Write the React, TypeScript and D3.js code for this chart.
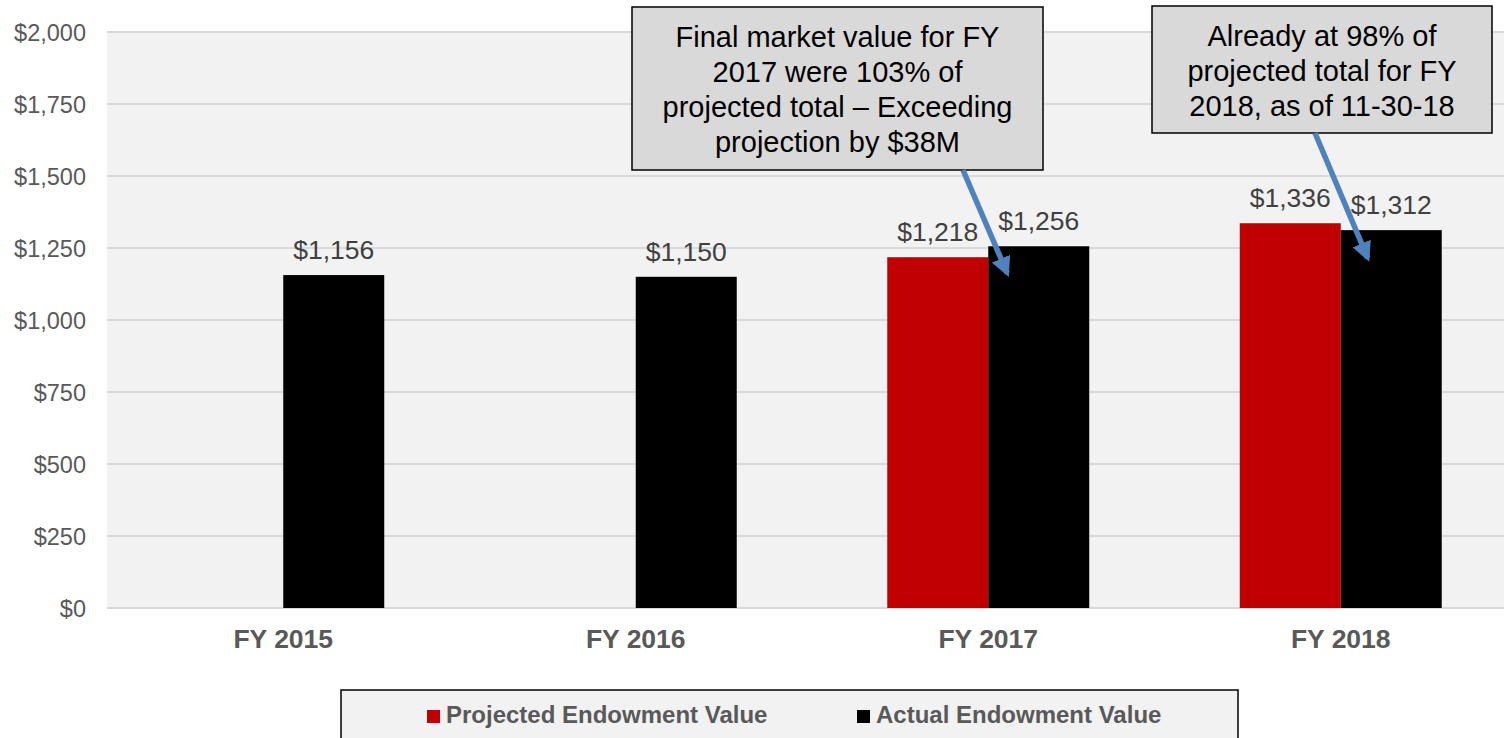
import * as d3 from 'd3';
import React from 'react';

const categories = ['FY 2015', 'FY 2016', 'FY 2017', 'FY 2018'];
const seriesNames = ['Projected Endowment Value', 'Actual Endowment Value'];
const seriesColors = ['#c00000', '#000000'];
const projected = [null, null, 1218, 1336];
const actual = [1156, 1150, 1256, 1312];
const yTicks = [0, 250, 500, 750, 1000, 1250, 1500, 1750, 2000];

const callout1 = ['Final market value for FY', '2017 were 103% of', 'projected total \u2013 Exceeding', 'projection by $38M'];
const callout2 = ['Already at 98% of', 'projected total for FY', '2018, as of 11-30-18'];

const W = 1504;
const H = 738;
const FONT = '"Liberation Sans", Arial, sans-serif';

const App = () => {
  const x0 = d3.scaleBand().domain(categories).range([107, 1517]).paddingInner(0.427).paddingOuter(0.2135);
  const x1 = d3.scaleBand().domain(seriesNames).range([0, x0.bandwidth()]);
  const y = d3.scaleLinear().domain([0, 2000]).range([608, 32]);
  const fmt = (v) => '$' + d3.format(',')(v);
  const values = [projected, actual];

  const arrows = [
    { from: [963, 170], cat: 'FY 2017', v: 1256, dx: 19, dy: 27 },
    { from: [1315, 133], cat: 'FY 2018', v: 1312, dx: 27, dy: 28 },
  ];

  return (
    <svg width={W} height={H} style={{ position: 'absolute', left: 0, top: 0 }} fontFamily={FONT}>
      <defs>
        <marker id="ah" viewBox="0 0 10 10" refX="8" refY="5" markerWidth="3.6" markerHeight="3.6" orient="auto">
          <path d="M0,0 L10,5 L0,10 z" fill="#4f81bd" />
        </marker>
      </defs>
      <rect x={0} y={0} width={W} height={H} fill="#ffffff" />
      <rect x={107} y={y(2000)} width={W - 107} height={y(0) - y(2000)} fill="#f2f2f2" />
      {yTicks.map((t) => (
        <g key={t}>
          <line x1={107} x2={W} y1={y(t)} y2={y(t)} stroke="#d9d9d9" strokeWidth={2} />
          <text x={86} y={y(t) + 8.5} textAnchor="end" fontSize={23.5} fill="#595959">{fmt(t)}</text>
        </g>
      ))}
      {categories.map((c, i) => (
        <g key={c} transform={`translate(${x0(c)},0)`}>
          {seriesNames.map((s, j) => {
            const v = values[j][i];
            if (v == null) return null;
            return (
              <g key={s}>
                <rect x={x1(s)} y={y(v)} width={x1.bandwidth()} height={y(0) - y(v)} fill={seriesColors[j]} />
                <text x={x1(s) + x1.bandwidth() / 2} y={y(v) - 16} textAnchor="middle" fontSize={26.5} fill="#404040">{fmt(v)}</text>
              </g>
            );
          })}
          <text x={x0.bandwidth() / 2} y={648} textAnchor="middle" fontSize={26.5} fontWeight="bold" fill="#595959">{c}</text>
        </g>
      ))}

      <rect x={632} y={7} width={411} height={163} fill="#d9d9d9" stroke="#000" strokeWidth={1.5} />
      {callout1.map((l, i) => (
        <text key={l} x={837.5} y={47 + i * 35} textAnchor="middle" fontSize={29} fill="#000">{l}</text>
      ))}
      <rect x={1152} y={6} width={340} height={127} fill="#d9d9d9" stroke="#000" strokeWidth={1.5} />
      {callout2.map((l, i) => (
        <text key={l} x={1322} y={46 + i * 35} textAnchor="middle" fontSize={29} fill="#000">{l}</text>
      ))}
      {arrows.map((a, i) => (
        <line key={i} x1={a.from[0]} y1={a.from[1]} x2={x0(a.cat) + x1('Actual Endowment Value') + a.dx} y2={y(a.v) + a.dy}
          stroke="#4f81bd" strokeWidth={5.5} markerEnd="url(#ah)" />
      ))}

      <rect x={341} y={690} width={897} height={60} fill="#f2f2f2" stroke="#000" strokeWidth={1.5} />
      {seriesNames.map((s, j) => {
        const lx = [427, 857][j];
        return (
          <g key={s}>
            <rect x={lx} y={710} width={13} height={13} fill={seriesColors[j]} />
            <text x={lx + 19} y={723} fontSize={24} fontWeight="bold" fill="#595959">{s}</text>
          </g>
        );
      })}
    </svg>
  );
};

export default App;
